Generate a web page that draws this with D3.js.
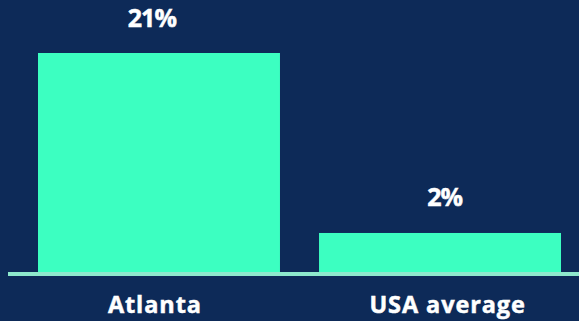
<!DOCTYPE html>
<html>
<head>
<meta charset="utf-8">
<script src="https://cdn.jsdelivr.net/npm/d3@7"></script>
<style>
  html, body { margin: 0; padding: 0; background: #0d2a58; }
  svg { display: block; }
  text { font-family: "Open Sans", sans-serif; font-weight: 700; fill: #ffffff; stroke: #ffffff; stroke-width: 0.5px; }
</style>
</head>
<body>
<svg id="chart" width="579" height="321"></svg>
<script>
// Share of growth: Atlanta vs national average
const categories = ["Atlanta", "USA average"];
const values = [21, 2];
const valueLabels = ["21%", "2%"];

const W = 579, H = 321;
const baseY = 272;     // bar baseline
const topY = 53;       // top of the tallest bar
const axisFloor = -2.12; // value at the baseline (axis does not start at zero)

const svg = d3.select("#chart");

svg.append("rect")
  .attr("width", W).attr("height", H)
  .attr("fill", "#0d2a58");

const x = d3.scaleBand()
  .domain(categories)
  .range([18.5, 580.5])
  .paddingInner(0.139)
  .paddingOuter(0.0694);

// labels sit on a slightly wider band
const xLabel = d3.scaleBand()
  .domain(categories)
  .range([8.5, 594])
  .padding(0);

const y = d3.scaleLinear()
  .domain([axisFloor, d3.max(values)])
  .range([baseY, topY]);

const data = categories.map((c, i) => ({ c, v: values[i], label: valueLabels[i] }));

svg.selectAll("rect.bar")
  .data(data)
  .join("rect")
  .attr("class", "bar")
  .attr("x", d => x(d.c))
  .attr("width", x.bandwidth())
  .attr("y", d => y(d.v))
  .attr("height", d => baseY - y(d.v))
  .attr("fill", "#3cffc1");

// baseline rule
svg.append("rect")
  .attr("x", 8)
  .attr("y", baseY)
  .attr("width", W - 8)
  .attr("height", 4)
  .attr("fill", "#8ee9cd");

svg.selectAll("text.value")
  .data(data)
  .join("text")
  .attr("class", "value")
  .attr("x", d => xLabel(d.c) + xLabel.bandwidth() / 2 - 3)
  .attr("y", d => y(d.v) - 26.5)
  .attr("text-anchor", "middle")
  .style("font-size", "25px")
  .style("letter-spacing", "-1px")
  .text(d => d.label);

svg.selectAll("text.cat")
  .data(data)
  .join("text")
  .attr("class", "cat")
  .attr("x", d => xLabel(d.c) + xLabel.bandwidth() / 2)
  .attr("y", 313.3)
  .attr("text-anchor", "middle")
  .style("font-size", "23.5px")
  .style("letter-spacing", "0.9px")
  .text(d => d.c);
</script>
</body>
</html>
